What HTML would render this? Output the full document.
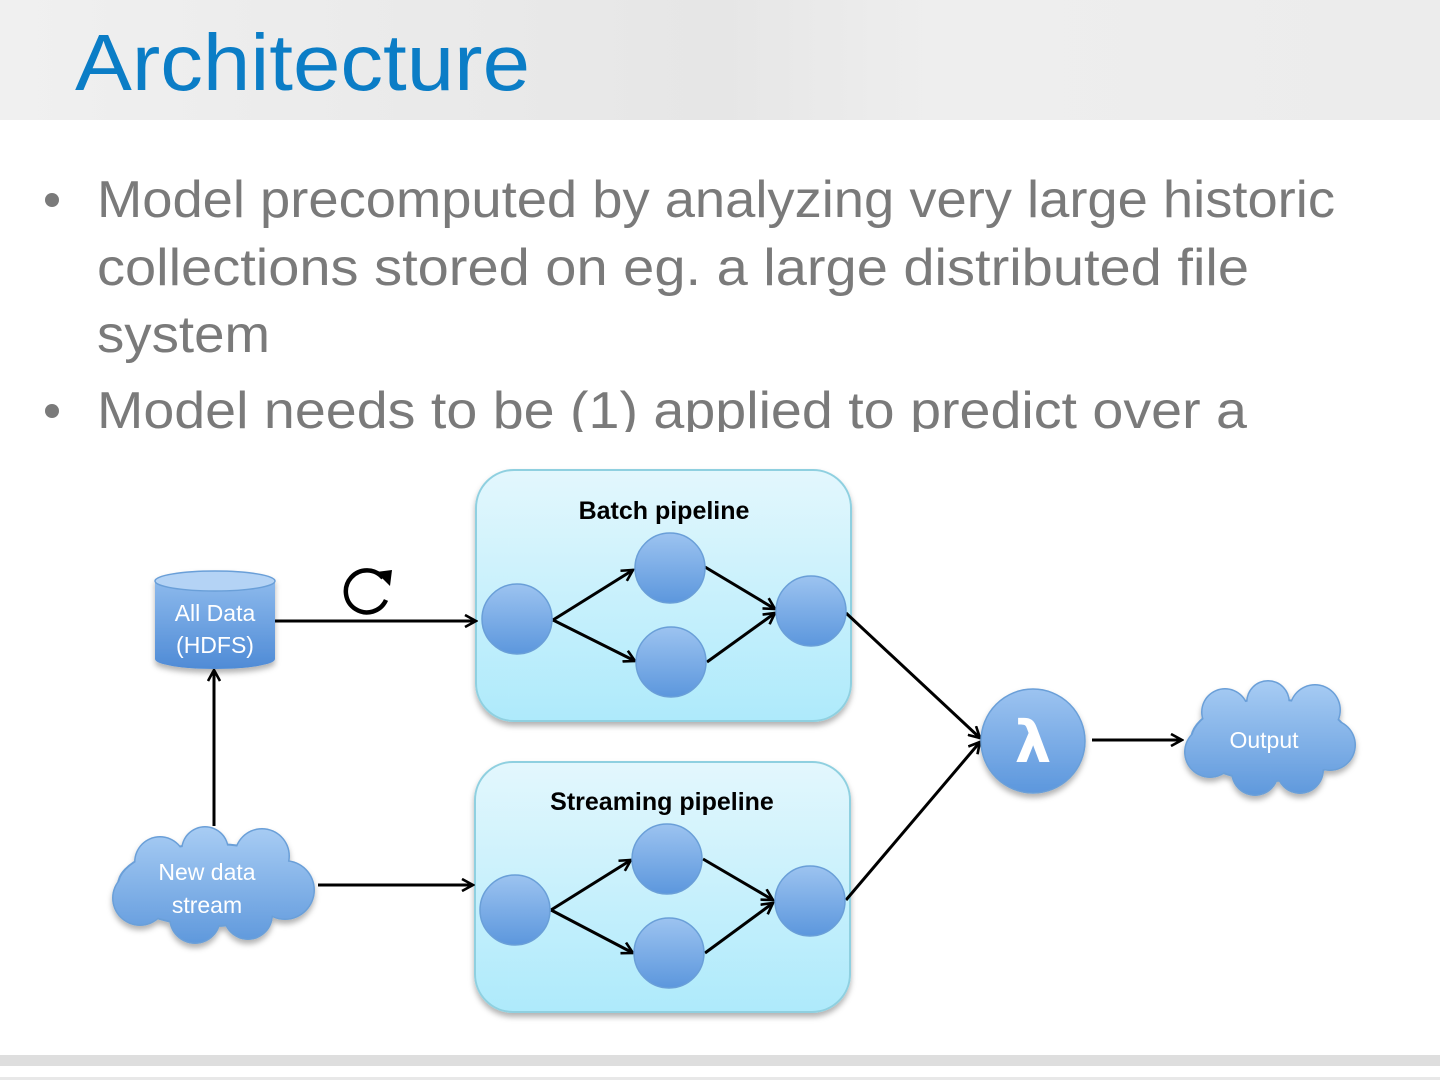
<!DOCTYPE html>
<html><head><meta charset="utf-8"><style>
html,body{margin:0;padding:0;width:1440px;height:1080px;overflow:hidden;background:#fff}
</style></head><body>
<svg width="1440" height="1080" viewBox="0 0 1440 1080" xmlns="http://www.w3.org/2000/svg">
<defs>
<linearGradient id="hdr" x1="0" y1="0" x2="1" y2="0">
<stop offset="0" stop-color="#f0f0f0"/><stop offset="0.5" stop-color="#e6e6e6"/><stop offset="0.65" stop-color="#eeeeee"/><stop offset="1" stop-color="#ececec"/>
</linearGradient>
<linearGradient id="box" x1="0" y1="0" x2="0" y2="1">
<stop offset="0" stop-color="#e3f7fd"/><stop offset="1" stop-color="#aeeafb"/>
</linearGradient>
<linearGradient id="node" x1="0" y1="0" x2="0" y2="1">
<stop offset="0" stop-color="#9cc3f0"/><stop offset="1" stop-color="#5c97dd"/>
</linearGradient>
<linearGradient id="cyl" x1="0" y1="0" x2="0" y2="1">
<stop offset="0" stop-color="#8cb9ec"/><stop offset="1" stop-color="#4f8bd6"/>
</linearGradient>
<linearGradient id="cloudA" gradientUnits="userSpaceOnUse" x1="0" y1="830" x2="0" y2="945">
<stop offset="0" stop-color="#a6cbf3"/><stop offset="1" stop-color="#5e98dc"/>
</linearGradient>
<linearGradient id="cloudB" gradientUnits="userSpaceOnUse" x1="0" y1="683" x2="0" y2="797">
<stop offset="0" stop-color="#a6cbf3"/><stop offset="1" stop-color="#5e98dc"/>
</linearGradient>
<marker id="ar" viewBox="0 0 14 14" refX="12" refY="7" markerWidth="14" markerHeight="14" markerUnits="userSpaceOnUse" orient="auto">
<path d="M1,1 L12,7 L1,13" fill="none" stroke="#000" stroke-width="2.6"/>
</marker>
<filter id="sh" x="-10%" y="-10%" width="120%" height="130%"><feDropShadow dx="0" dy="4" stdDeviation="3" flood-color="#000" flood-opacity="0.3"/></filter>
<clipPath id="tc"><rect x="0" y="120" width="1440" height="312"/></clipPath>
</defs>
<rect x="0" y="0" width="1440" height="120" fill="url(#hdr)"/>
<text x="75" y="90" font-family="Liberation Sans, sans-serif" font-size="80" fill="#0b7dc6" textLength="455" lengthAdjust="spacingAndGlyphs">Architecture</text>

<g clip-path="url(#tc)" font-family="Liberation Sans, sans-serif" font-size="52" fill="#7a7a7a">
<circle cx="52" cy="200" r="7" fill="#7a7a7a"/>
<text x="97" y="217" textLength="1238" lengthAdjust="spacingAndGlyphs">Model precomputed by analyzing very large historic</text>
<text x="97" y="285" textLength="1152" lengthAdjust="spacingAndGlyphs">collections stored on eg. a large distributed file</text>
<text x="97" y="352" textLength="173" lengthAdjust="spacingAndGlyphs">system</text>
<circle cx="52" cy="411" r="7" fill="#7a7a7a"/>
<text x="97" y="428" textLength="1150" lengthAdjust="spacingAndGlyphs">Model needs to be (1) applied to predict over a</text>
</g>

<rect x="476" y="470" width="375" height="251" rx="38" fill="url(#box)" stroke="#8fd0e0" stroke-width="2" filter="url(#sh)"/>
<rect x="475" y="762" width="375" height="250" rx="38" fill="url(#box)" stroke="#8fd0e0" stroke-width="2" filter="url(#sh)"/>
<g font-family="Liberation Sans, sans-serif" font-weight="bold" font-size="25" fill="#000" text-anchor="middle">
<text x="664" y="519">Batch pipeline</text>
<text x="662" y="810">Streaming pipeline</text>
</g>

<g stroke="#000" stroke-width="3" fill="none" marker-end="url(#ar)">
<line x1="553" y1="620" x2="633" y2="570"/>
<line x1="553" y1="620" x2="635" y2="661"/>
<line x1="705" y1="567" x2="775" y2="609"/>
<line x1="707" y1="662" x2="775" y2="613"/>
<line x1="551" y1="910" x2="631" y2="860"/>
<line x1="551" y1="910" x2="633" y2="953"/>
<line x1="703" y1="859" x2="773" y2="900"/>
<line x1="705" y1="953" x2="773" y2="903"/>
<line x1="275" y1="621" x2="476" y2="621"/>
<line x1="214" y1="826" x2="214" y2="670"/>
<line x1="318" y1="885" x2="473" y2="885"/>
<line x1="846" y1="613" x2="980" y2="738"/>
<line x1="846" y1="900" x2="980" y2="742"/>
<line x1="1092" y1="740" x2="1182" y2="740"/>
</g>

<g fill="url(#node)" stroke="#6a9fd8" stroke-width="1.5">
<circle cx="517" cy="619" r="35"/><circle cx="670" cy="568" r="35"/><circle cx="671" cy="662" r="35"/><circle cx="811" cy="611" r="35"/>
<circle cx="515" cy="910" r="35"/><circle cx="667" cy="859" r="35"/><circle cx="669" cy="953" r="35"/><circle cx="810" cy="901" r="35"/>
<circle cx="1033" cy="741" r="52" filter="url(#sh)"/>
</g>
<text x="1033" y="762" font-family="DejaVu Sans, sans-serif" font-weight="bold" font-size="58" fill="#fff" text-anchor="middle">λ</text>

<path d="M383,578 A21,21 0 1 0 386,600" fill="none" stroke="#000" stroke-width="4.5"/>
<path d="M376,572 L392,570 L390,586 Z" fill="#000"/>

<g filter="url(#sh)">
<path d="M155,581 L155,659 A60,10 0 0 0 275,659 L275,581 Z" fill="url(#cyl)"/>
<ellipse cx="215" cy="581" rx="60" ry="10" fill="#b4d3f5" stroke="#6a9fd8" stroke-width="1.5"/>
</g>
<g font-family="Liberation Sans, sans-serif" font-size="23" fill="#fff" text-anchor="middle">
<text x="215" y="621">All Data</text>
<text x="215" y="653">(HDFS)</text>
</g>

<g filter="url(#sh)">
<g fill="#6a9fd8">
<ellipse cx="212" cy="885" rx="95" ry="42"/>
<circle cx="160" cy="862" r="26"/><circle cx="205" cy="850" r="24"/><circle cx="262" cy="856" r="28"/>
<circle cx="140" cy="898" r="28"/><circle cx="285" cy="890" r="30"/><circle cx="195" cy="918" r="26"/><circle cx="248" cy="915" r="25"/>
</g>
<g fill="url(#cloudA)">
<ellipse cx="212" cy="885" rx="93" ry="40"/>
<circle cx="160" cy="862" r="24.5"/><circle cx="205" cy="850" r="22.5"/><circle cx="262" cy="856" r="26.5"/>
<circle cx="140" cy="898" r="26.5"/><circle cx="285" cy="890" r="28.5"/><circle cx="195" cy="918" r="24.5"/><circle cx="248" cy="915" r="23.5"/>
</g>
</g>
<g font-family="Liberation Sans, sans-serif" font-size="23" fill="#fff" text-anchor="middle">
<text x="207" y="880">New data</text>
<text x="207" y="913">stream</text>
</g>
<g filter="url(#sh)">
<g fill="#6a9fd8">
<ellipse cx="1270" cy="740" rx="80" ry="42"/>
<circle cx="1225" cy="712" r="24"/><circle cx="1268" cy="702" r="22"/><circle cx="1315" cy="710" r="26"/>
<circle cx="1210" cy="752" r="26"/><circle cx="1330" cy="745" r="26"/><circle cx="1255" cy="772" r="24"/><circle cx="1300" cy="770" r="24"/>
</g>
<g fill="url(#cloudB)">
<ellipse cx="1270" cy="740" rx="78" ry="40"/>
<circle cx="1225" cy="712" r="22.5"/><circle cx="1268" cy="702" r="20.5"/><circle cx="1315" cy="710" r="24.5"/>
<circle cx="1210" cy="752" r="24.5"/><circle cx="1330" cy="745" r="24.5"/><circle cx="1255" cy="772" r="22.5"/><circle cx="1300" cy="770" r="22.5"/>
</g>
</g>
<text x="1264" y="748" font-family="Liberation Sans, sans-serif" font-size="23" fill="#fff" text-anchor="middle">Output</text>

<rect x="0" y="1055" width="1440" height="11" fill="#dedede"/>
<rect x="0" y="1077" width="1440" height="3" fill="#e8e8e8"/>
</svg>
</body></html>
